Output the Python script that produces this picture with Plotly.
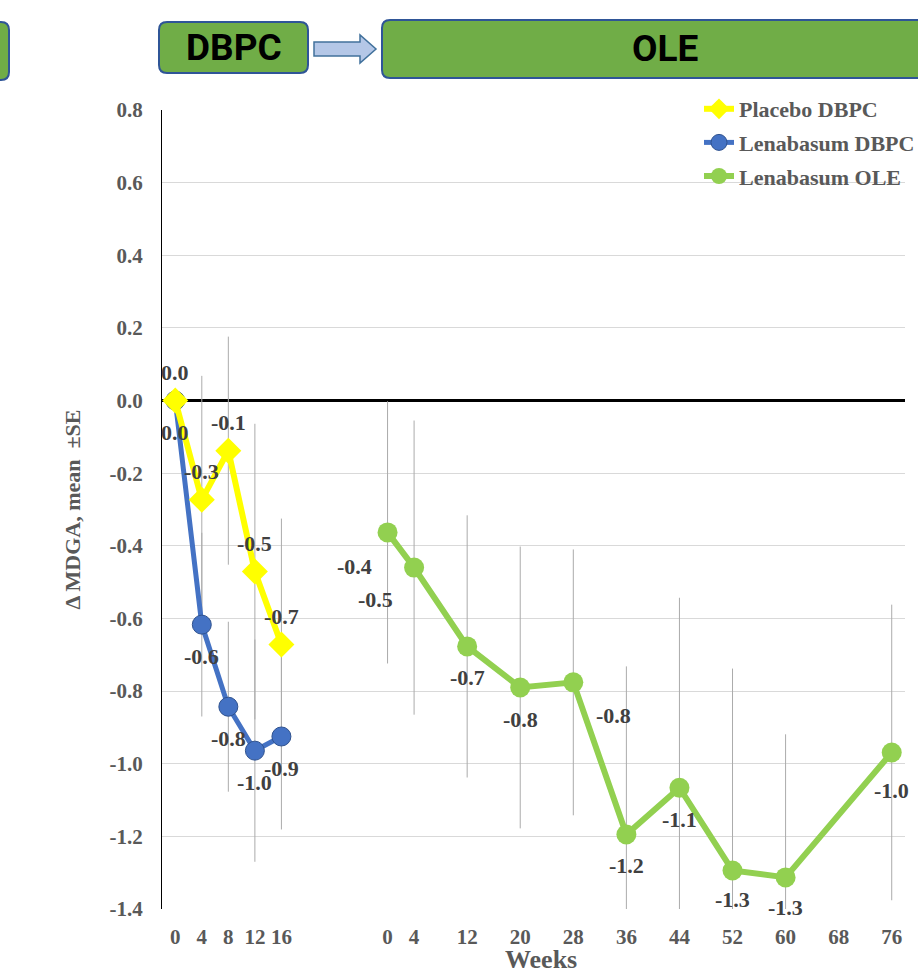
import plotly.graph_objects as go

# ---- data -------------------------------------------------------------
# Visit weeks of each study phase
dbpc_weeks = [0, 4, 8, 12, 16]
ole_weeks = [0, 4, 12, 20, 28, 36, 44, 52, 60, 76]
ole_tick_weeks = [0, 4, 12, 20, 28, 36, 44, 52, 60, 68, 76]

# Change from baseline in MDGA: mean and standard error
placebo_dbpc_mean = [0.0, -0.273, -0.138, -0.471, -0.672]
placebo_dbpc_se = [0.0, 0.341, 0.314, 0.407, 0.347]

lenabasum_dbpc_mean = [0.0, -0.617, -0.843, -0.964, -0.925]
lenabasum_dbpc_se = [0.0, 0.253, 0.234, 0.306, 0.256]

lenabasum_ole_mean = [-0.363, -0.460, -0.677, -0.790, -0.776,
                      -1.195, -1.066, -1.294, -1.313, -0.969]
lenabasum_ole_se = [0.361, 0.405, 0.361, 0.388, 0.366,
                    0.463, 0.523, 0.556, 0.394, 0.407]

y_ticks = [0.8, 0.6, 0.4, 0.2, 0.0, -0.2, -0.4, -0.6, -0.8, -1.0, -1.2, -1.4]

# ---- x scale: one slot per 4 weeks, OLE starts after a gap ------------
WEEKS_PER_SLOT = 4
OLE_START_SLOT = 8


def dbpc_slot(w):
    return w / WEEKS_PER_SLOT


def ole_slot(w):
    return OLE_START_SLOT + w / WEEKS_PER_SLOT


x_dbpc = [dbpc_slot(w) for w in dbpc_weeks]
x_ole = [ole_slot(w) for w in ole_weeks]

tick_vals = x_dbpc + [ole_slot(w) for w in ole_tick_weeks]
tick_text = [str(w) for w in dbpc_weeks] + [str(w) for w in ole_tick_weeks]

# ---- page geometry ----------------------------------------------------
W, H = 918, 973
PLOT_L, PLOT_R, PLOT_T, PLOT_B = 162, 13, 110, 64
PLOT_W = W - PLOT_L - PLOT_R
PLOT_H = H - PLOT_T - PLOT_B


def X(px):
    return (px - PLOT_L) / PLOT_W


def Y(py):
    return (PLOT_T + PLOT_H - py) / PLOT_H


SERIF = "Liberation Serif, Times New Roman, serif"
TICK_GREY = "#595959"
LABEL_GREY = "#404040"
ERR_GREY = "#ABABAB"

YELLOW = "#FFFF00"
BLUE = "#4472C4"
BLUE_EDGE = "#2F528F"
GREEN = "#92D050"

fig = go.Figure()

# error bars first so they sit underneath every line
for xs, ys, se in [(x_dbpc, placebo_dbpc_mean, placebo_dbpc_se),
                   (x_dbpc, lenabasum_dbpc_mean, lenabasum_dbpc_se),
                   (x_ole, lenabasum_ole_mean, lenabasum_ole_se)]:
    fig.add_trace(go.Scatter(
        x=xs, y=ys, mode="markers",
        marker=dict(size=1, opacity=0),
        error_y=dict(type="data", array=se, visible=True,
                     color=ERR_GREY, thickness=1, width=0),
        showlegend=False, hoverinfo="skip",
    ))

fig.add_trace(go.Scatter(
    x=x_ole, y=lenabasum_ole_mean, mode="lines+markers",
    name="Lenabasum OLE", legendrank=3, legendgroup="c",
    line=dict(color=GREEN, width=6),
    marker=dict(symbol="circle", size=20, color=GREEN),
))
fig.add_trace(go.Scatter(
    x=x_dbpc, y=lenabasum_dbpc_mean, mode="lines+markers",
    name="Lenabasum DBPC", legendrank=2, legendgroup="b",
    line=dict(color=BLUE, width=5),
    marker=dict(symbol="circle", size=19, color=BLUE,
                line=dict(color=BLUE_EDGE, width=1)),
))
fig.add_trace(go.Scatter(
    x=x_dbpc, y=placebo_dbpc_mean, mode="lines+markers",
    name="Placebo DBPC", legendrank=1, legendgroup="a",
    line=dict(color=YELLOW, width=6),
    marker=dict(symbol="diamond", size=20, color=YELLOW),
))

# ---- value labels -----------------------------------------------------
label_font = dict(family=SERIF, size=22, color=LABEL_GREY, weight="bold")


def add_labels(xs, ys, shifts):
    for x, y, (dx, dy) in zip(xs, ys, shifts):
        fig.add_annotation(x=x, y=y, text=f"{y:.1f}", showarrow=False,
                           xanchor="center", yanchor="middle",
                           xshift=dx, yshift=dy, font=label_font)


add_labels(x_dbpc, placebo_dbpc_mean, [(0, 28)] * 5)
add_labels(x_dbpc, lenabasum_dbpc_mean, [(0, -32)] * 5)
ole_shifts = [(-33, -34), (-39, -32), (0, -31), (0, -32), (40, -33),
              (0, -31), (0, -32), (0, -29), (0, -30), (0, -38)]
add_labels(x_ole, lenabasum_ole_mean, ole_shifts)

# ---- phase banner above the chart --------------------------------------
BOX_FILL = "#70AD47"
BOX_EDGE = "#2F5597"


def rounded_box(x0, y0, x1, y1, r):
    return (f"M {X(x0 + r)},{Y(y0)} L {X(x1 - r)},{Y(y0)} "
            f"Q {X(x1)},{Y(y0)} {X(x1)},{Y(y0 + r)} "
            f"L {X(x1)},{Y(y1 - r)} Q {X(x1)},{Y(y1)} {X(x1 - r)},{Y(y1)} "
            f"L {X(x0 + r)},{Y(y1)} Q {X(x0)},{Y(y1)} {X(x0)},{Y(y1 - r)} "
            f"L {X(x0)},{Y(y0 + r)} Q {X(x0)},{Y(y0)} {X(x0 + r)},{Y(y0)} Z")


for box in [(-14, 22, 9, 80), (159, 22, 308, 73), (382, 20, 935, 78)]:
    fig.add_shape(type="path", xref="paper", yref="paper",
                  path=rounded_box(*box, 8),
                  fillcolor=BOX_FILL, line=dict(color=BOX_EDGE, width=2),
                  layer="above")

arrow_pts = [(314, 42), (360, 42), (360, 35), (376, 49),
             (360, 63), (360, 56), (314, 56)]
arrow_path = "M " + " L ".join(f"{X(a)},{Y(b)}" for a, b in arrow_pts) + " Z"
fig.add_shape(type="path", xref="paper", yref="paper", path=arrow_path,
              fillcolor="#B4C7E7", line=dict(color="#41719C", width=1.5),
              layer="above")

banner_font = dict(family="Roboto, Arial, sans-serif", size=37,
                   color="black", weight="bold")
fig.add_annotation(xref="paper", yref="paper", x=X(233.5), y=Y(48),
                   xanchor="center", yanchor="middle",
                   text="DBPC", showarrow=False, font=banner_font)
fig.add_annotation(xref="paper", yref="paper", x=X(665), y=Y(49),
                   xanchor="center", yanchor="middle",
                   text="OLE", showarrow=False, font=banner_font)

# x-axis title close to the bottom edge of the page
fig.add_annotation(xref="paper", yref="paper", x=X(541), y=Y(959),
                   xanchor="center", yanchor="middle",
                   text="Weeks", showarrow=False,
                   font=dict(family=SERIF, size=26, color=TICK_GREY,
                             weight="bold"))

# ---- axes and layout --------------------------------------------------
tick_font = dict(family=SERIF, size=21, color=TICK_GREY, weight="bold")

fig.update_layout(
    width=W, height=H, autosize=False,
    margin=dict(l=PLOT_L, r=PLOT_R, t=PLOT_T, b=PLOT_B, pad=0,
                autoexpand=False),
    paper_bgcolor="white", plot_bgcolor="white",
    font=dict(family=SERIF, color=TICK_GREY),
    showlegend=True,
    legend=dict(
        x=X(699), y=Y(88), xanchor="left", yanchor="top",
        bgcolor="rgba(0,0,0,0)", borderwidth=0,
        font=dict(family=SERIF, size=22, color=TICK_GREY, weight="bold"),
        traceorder="grouped", tracegroupgap=2,
    ),
    xaxis=dict(
        range=[-0.5, 27.5], tickmode="array",
        tickvals=tick_vals, ticktext=tick_text,
        showgrid=False, zeroline=False, showline=False,
        ticks="outside", ticklen=9, tickcolor="rgba(0,0,0,0)",
        tickfont=tick_font, automargin=False,
    ),
    yaxis=dict(
        range=[-1.4, 0.8], tickmode="array",
        tickvals=y_ticks, ticktext=[f"{v:.1f}" for v in y_ticks],
        showgrid=True, gridcolor="#D9D9D9", gridwidth=1,
        zeroline=True, zerolinecolor="black", zerolinewidth=3,
        showline=True, linecolor="black", linewidth=1,
        ticks="outside", ticklen=14, tickcolor="rgba(0,0,0,0)",
        tickfont=tick_font, automargin=False,
        title=dict(text="\u0394 MDGA, mean \u00a0\u00b1SE", standoff=22,
                   font=dict(family=SERIF, size=22, color=TICK_GREY,
                             weight="bold")),
    ),
)

fig.write_html("out.html")
